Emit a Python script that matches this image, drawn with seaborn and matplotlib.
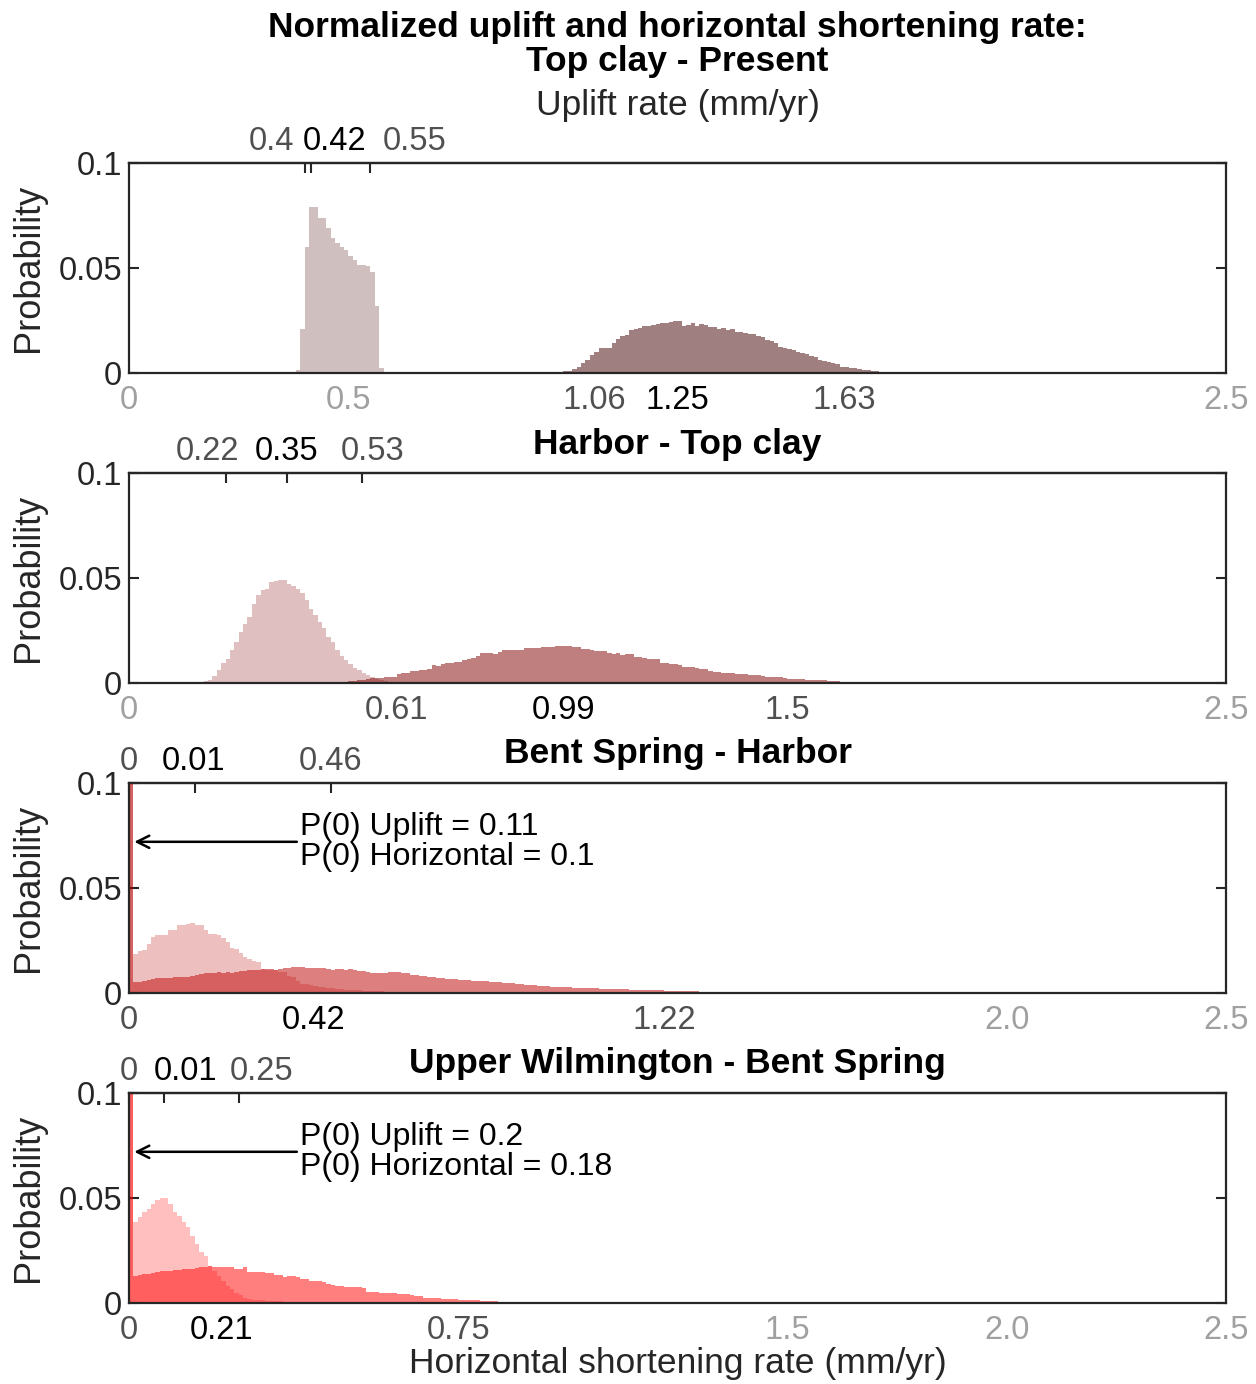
import numpy as np
import pandas as pd
import matplotlib
matplotlib.use("Agg")
import matplotlib.pyplot as plt
import matplotlib.transforms as mtransforms
import seaborn as sns

# ---------------- data (probability per 0.01 mm/yr bin) ----------------
BIN = 0.01

p1_title = "Normalized uplift and horizontal shortening rate:\nTop clay - Present"
p1_uplift_start = 0.38
p1_uplift = [0.0013, 0.021, 0.060, 0.079, 0.079, 0.074, 0.074, 0.069, 0.0645, 0.062,
             0.060, 0.0586, 0.0557, 0.0538, 0.0514, 0.0514, 0.051, 0.048, 0.032, 0.0025]
p1_horiz_start = 0.96
p1_horiz = [0.0003, 0.0004, 0.0005, 0.0008, 0.0010, 0.0017, 0.0030, 0.0046, 0.0060, 0.0086,
            0.0100, 0.0117, 0.0117, 0.0117, 0.0144, 0.0160, 0.0176, 0.0180, 0.0205, 0.0210,
            0.0213, 0.0224, 0.0225, 0.0229, 0.0232, 0.0237, 0.0240, 0.0244, 0.0248, 0.0246,
            0.0224, 0.0230, 0.0240, 0.0224, 0.0232, 0.0229, 0.0220, 0.0217, 0.0208, 0.0214,
            0.0205, 0.0208, 0.0197, 0.0194, 0.0189, 0.0186, 0.0184, 0.0176, 0.0170, 0.0157,
            0.0154, 0.0141, 0.0125, 0.0117, 0.0113, 0.0110, 0.0098, 0.0094, 0.0089, 0.0081,
            0.0075, 0.0062, 0.0059, 0.0054, 0.0049, 0.0041, 0.0030, 0.0027, 0.0024, 0.0022,
            0.0019, 0.0016, 0.0013, 0.0010, 0.0008, 0.0007, 0.0006, 0.0006, 0.0005, 0.0005,
            0.0004, 0.0003, 0.0002]
p1_top_ticks = [0.40, 0.415, 0.55]
p1_top_labels = ["0.4", "0.42", "0.55"]
p1_top_roles = ["bound", "mode", "bound"]
p1_bottom_ticks = [0, 0.5, 1.06, 1.25, 1.63, 2.5]
p1_bottom_labels = ["0", "0.5", "1.06", "1.25", "1.63", "2.5"]
p1_bottom_roles = ["axis", "axis", "bound", "mode", "bound", "axis"]

p2_title = "Harbor - Top clay"
p2_uplift_start = 0.15
p2_uplift = [0.0002, 0.0004, 0.0008, 0.0016, 0.0035, 0.0060, 0.0095, 0.0116, 0.0159, 0.0195,
             0.0243, 0.0283, 0.0314, 0.0378, 0.0417, 0.0444, 0.0449, 0.0481, 0.0484, 0.0492,
             0.0489, 0.0470, 0.0460, 0.0449, 0.0429, 0.0394, 0.0354, 0.0322, 0.0290, 0.0263,
             0.0219, 0.0195, 0.0156, 0.0127, 0.0108, 0.0089, 0.0071, 0.0060, 0.0048, 0.0037,
             0.0029, 0.0021, 0.0016, 0.0011, 0.0006, 0.0004, 0.0002]
p2_horiz_start = 0.47
p2_horiz = [0.0003, 0.0004, 0.0006, 0.0008, 0.0009, 0.0012, 0.0016, 0.0018, 0.0022, 0.0025,
            0.0026, 0.0027, 0.0029, 0.0030, 0.0044, 0.0047, 0.0049, 0.0055, 0.0057, 0.0060,
            0.0063, 0.0065, 0.0084, 0.0082, 0.0092, 0.0097, 0.0097, 0.0098, 0.0100, 0.0111,
            0.0115, 0.0119, 0.0130, 0.0143, 0.0143, 0.0143, 0.0137, 0.0148, 0.0159, 0.0159,
            0.0157, 0.0156, 0.0156, 0.0168, 0.0168, 0.0168, 0.0168,
            0.0172, 0.0170, 0.0170, 0.0174, 0.0176, 0.0176, 0.0176, 0.0170, 0.0170, 0.0162,
            0.0160, 0.0157, 0.0153, 0.0151, 0.0151, 0.0144, 0.0138, 0.0144, 0.0133, 0.0137,
            0.0136, 0.0122, 0.0122, 0.0118, 0.0116, 0.0116, 0.0116, 0.0097, 0.0094, 0.0090,
            0.0089, 0.0084, 0.0076, 0.0075, 0.0075, 0.0070, 0.0068, 0.0065, 0.0059, 0.0053,
            0.0052, 0.0049, 0.0049, 0.0046, 0.0044, 0.0042, 0.0041, 0.0040, 0.0038, 0.0037,
            0.0033, 0.0030, 0.0029, 0.0029, 0.0028, 0.0026, 0.0021, 0.0021, 0.0020, 0.0017,
            0.0016, 0.0016, 0.0014, 0.0013, 0.0012, 0.0010, 0.0008, 0.0008, 0.0007, 0.0006,
            0.0005, 0.0005, 0.0004, 0.0004, 0.0003, 0.0003, 0.0003, 0.0002, 0.0002, 0.0002,
            0.0001, 0.0001]
p2_top_ticks = [0.22, 0.36, 0.53]
p2_top_labels = ["0.22", "0.35", "0.53"]
p2_top_roles = ["bound", "mode", "bound"]
p2_bottom_ticks = [0, 0.61, 0.99, 1.5, 2.5]
p2_bottom_labels = ["0", "0.61", "0.99", "1.5", "2.5"]
p2_bottom_roles = ["axis", "bound", "mode", "bound", "axis"]

p3_title = "Bent Spring - Harbor"
p3_uplift_start = 0.0
p3_uplift = [0.11, 0.0186, 0.0200, 0.0205, 0.0235, 0.0265, 0.0275, 0.0276, 0.0276, 0.0300,
             0.0302, 0.0322, 0.0325, 0.0330, 0.0333, 0.0325, 0.0322, 0.0300, 0.0283, 0.0283,
             0.0276, 0.0262, 0.0241, 0.0213, 0.0211, 0.0190, 0.0170, 0.0160, 0.0152, 0.0146,
             0.0112, 0.0110, 0.0110, 0.0108, 0.0098, 0.0098, 0.0083, 0.0075, 0.0059, 0.0045,
             0.0043, 0.0040, 0.0032, 0.0030, 0.0028, 0.0025, 0.0024, 0.0021, 0.0017, 0.0016,
             0.0015, 0.0014, 0.0012, 0.0011, 0.0011, 0.0010, 0.0010, 0.0009, 0.0007, 0.0006,
             0.0006, 0.0006, 0.0006, 0.0006, 0.0006, 0.0006, 0.0006, 0.0004, 0.0004, 0.0003,
             0.0003, 0.0003, 0.0002, 0.0002, 0.0002, 0.0002, 0.0001, 0.0001, 0.0001]
p3_horiz_start = 0.0
p3_horiz = [0.10, 0.0051, 0.0054, 0.0059, 0.0062, 0.0067, 0.0070, 0.0073, 0.0070, 0.0071,
            0.0075, 0.0076, 0.0078, 0.0078, 0.0081, 0.0084, 0.0090, 0.0094, 0.0097, 0.0095,
            0.0098, 0.0097, 0.0100, 0.0097, 0.0098, 0.0103, 0.0106, 0.0108, 0.0110, 0.0110,
            0.0113, 0.0114, 0.0116, 0.0110, 0.0114, 0.0119, 0.0119, 0.0122, 0.0124, 0.0122,
            0.0121, 0.0119, 0.0119, 0.0117, 0.0119, 0.0114, 0.0111, 0.0114, 0.0113, 0.0110,
            0.0113, 0.0110, 0.0106, 0.0104, 0.0102, 0.0097, 0.0097, 0.0097, 0.0097, 0.0098,
            0.0098, 0.0098, 0.0094, 0.0094, 0.0087, 0.0087, 0.0081, 0.0081, 0.0078, 0.0078,
            0.0070, 0.0070, 0.0067, 0.0067, 0.0067, 0.0062, 0.0062, 0.0062, 0.0056, 0.0056,
            0.0056, 0.0055, 0.0054, 0.0053, 0.0052, 0.0048, 0.0047, 0.0046, 0.0045, 0.0042,
            0.0039, 0.0037, 0.0036, 0.0035, 0.0034, 0.0032, 0.0030, 0.0029, 0.0029, 0.0028,
            0.0027, 0.0026, 0.0025, 0.0025, 0.0024, 0.0023, 0.0022, 0.0021, 0.0021, 0.0020,
            0.0019, 0.0018, 0.0017, 0.0017, 0.0016, 0.0016, 0.0015, 0.0014, 0.0013, 0.0013,
            0.0012, 0.0012, 0.0011, 0.0010, 0.0010, 0.0010, 0.0009, 0.0009, 0.0008, 0.0008,
            0.0007, 0.0007, 0.0007, 0.0006, 0.0006, 0.0006, 0.0005, 0.0005, 0.0005, 0.0005,
            0.0005, 0.0005, 0.0005, 0.0005, 0.0005, 0.0005, 0.0005, 0.0003, 0.0003, 0.0003,
            0.0003, 0.0003, 0.0003, 0.0003, 0.0003, 0.0003, 0.0003, 0.0003, 0.0003, 0.0003,
            0.0003, 0.0003, 0.0002, 0.0002, 0.0002, 0.0002, 0.0002, 0.0002, 0.0002, 0.0002,
            0.0002, 0.0002, 0.0002, 0.0002, 0.0002, 0.0002]
p3_top_ticks = [0.0, 0.15, 0.46]
p3_top_labels = ["0", "0.01", "0.46"]
p3_top_roles = ["bound", "mode", "bound"]
p3_bottom_ticks = [0, 0.42, 1.22, 2.0, 2.5]
p3_bottom_labels = ["0", "0.42", "1.22", "2.0", "2.5"]
p3_bottom_roles = ["bound", "mode", "bound", "axis", "axis"]
p3_note = "P(0) Uplift = 0.11\nP(0) Horizontal = 0.1"

p4_title = "Upper Wilmington - Bent Spring"
p4_uplift_start = 0.0
p4_uplift = [0.20, 0.0387, 0.0408, 0.0432, 0.0448, 0.0471, 0.0492, 0.0498, 0.0502, 0.0471,
             0.0435, 0.0416, 0.0387, 0.0360, 0.0317, 0.0281, 0.0241, 0.0222, 0.0178, 0.0154,
             0.0130, 0.0105, 0.0083, 0.0065, 0.0048, 0.0036, 0.0025, 0.0019, 0.0015, 0.0013,
             0.0012, 0.0010, 0.0009, 0.0008, 0.0008, 0.0007, 0.0006, 0.0005, 0.0005, 0.0005,
             0.0004, 0.0004, 0.0004, 0.0003, 0.0003, 0.0003, 0.0003, 0.0002, 0.0002, 0.0002,
             0.0002, 0.0002, 0.0001, 0.0001, 0.0001]
p4_horiz_start = 0.0
p4_horiz = [0.18, 0.0130, 0.0133, 0.0137, 0.0140, 0.0143, 0.0146, 0.0151, 0.0154, 0.0154,
            0.0156, 0.0159, 0.0162, 0.0162, 0.0162, 0.0167, 0.0170, 0.0173, 0.0178, 0.0171,
            0.0172, 0.0171, 0.0172, 0.0170, 0.0162, 0.0162, 0.0170, 0.0149, 0.0150, 0.0149,
            0.0147, 0.0143, 0.0141, 0.0133, 0.0133, 0.0122, 0.0127, 0.0127, 0.0125, 0.0116,
            0.0114, 0.0106, 0.0104, 0.0103, 0.0100, 0.0090, 0.0084, 0.0083, 0.0082, 0.0076,
            0.0075, 0.0075, 0.0074, 0.0072, 0.0053, 0.0052, 0.0051, 0.0050, 0.0048, 0.0047,
            0.0046, 0.0042, 0.0041, 0.0041, 0.0040, 0.0035, 0.0034, 0.0024, 0.0023, 0.0022,
            0.0022, 0.0021, 0.0021, 0.0020, 0.0017, 0.0016, 0.0016, 0.0015, 0.0015, 0.0012,
            0.0011, 0.0011, 0.0010, 0.0010, 0.0007, 0.0007, 0.0006, 0.0006, 0.0006, 0.0005,
            0.0005, 0.0004, 0.0004, 0.0003, 0.0003, 0.0003, 0.0003, 0.0003, 0.0003, 0.0002,
            0.0002, 0.0002, 0.0002, 0.0002, 0.0002, 0.0002, 0.0002, 0.0002, 0.0002, 0.0002,
            0.0002, 0.0002, 0.0002, 0.0002, 0.0001, 0.0001, 0.0001, 0.0001, 0.0001, 0.0001,
            0.0001, 0.0001, 0.0001, 0.0001, 0.0001, 0.0001, 0.0001, 0.0001, 0.0001]
p4_top_ticks = [0.0, 0.08, 0.25]
p4_top_labels = ["0", "0.01", "0.25"]
p4_top_roles = ["bound", "mode", "bound"]
p4_bottom_ticks = [0, 0.21, 0.75, 1.5, 2.0, 2.5]
p4_bottom_labels = ["0", "0.21", "0.75", "1.5", "2.0", "2.5"]
p4_bottom_roles = ["bound", "mode", "bound", "axis", "axis", "axis"]
p4_note = "P(0) Uplift = 0.2\nP(0) Horizontal = 0.18"

y_ticks = [0, 0.05, 0.1]
y_labels = ["0", "0.05", "0.1"]
top_axis_label = "Uplift rate (mm/yr)"
bottom_axis_label = "Horizontal shortening rate (mm/yr)"
y_axis_label = "Probability"

# ---------------- layout / style ----------------
# where the top (uplift) tick labels sit, spread apart so they do not collide
top_label_x = [[0.324, 0.469, 0.650],
               [0.180, 0.360, 0.554],
               [0.0, 0.146, 0.460],
               [0.0, 0.128, 0.301]]

sns.set_theme(style="white")
plt.rcParams["font.family"] = ["Liberation Sans", "DejaVu Sans"]
plt.rcParams["axes.linewidth"] = 1.6

W, H = 1256, 1384
fig = plt.figure(figsize=(W / 100, H / 100), dpi=100)

AX_L, AX_R = 129, 1226
AX_TOPS = [163, 473, 783, 1093]
AX_H = 210
TICK_FS = 23.5
LABEL_FS = 25.5
NOTE_FS = 23
ROLE_COLORS = {"axis": "#a0a0a0", "bound": "#505050", "mode": "#000000"}
SPINE_C = "#262626"

base_colors = [(0.25, 0, 0), (0.5, 0, 0), (0.75, 0, 0), (1.0, 0, 0)]

panels = [
    dict(uplift=p1_uplift, u0=p1_uplift_start, horiz=p1_horiz, h0=p1_horiz_start,
         tt=p1_top_ticks, tl=p1_top_labels, tr=p1_top_roles,
         bt=p1_bottom_ticks, bl=p1_bottom_labels, br=p1_bottom_roles, title=None, note=None),
    dict(uplift=p2_uplift, u0=p2_uplift_start, horiz=p2_horiz, h0=p2_horiz_start,
         tt=p2_top_ticks, tl=p2_top_labels, tr=p2_top_roles,
         bt=p2_bottom_ticks, bl=p2_bottom_labels, br=p2_bottom_roles, title=p2_title, note=None),
    dict(uplift=p3_uplift, u0=p3_uplift_start, horiz=p3_horiz, h0=p3_horiz_start,
         tt=p3_top_ticks, tl=p3_top_labels, tr=p3_top_roles,
         bt=p3_bottom_ticks, bl=p3_bottom_labels, br=p3_bottom_roles, title=p3_title, note=p3_note),
    dict(uplift=p4_uplift, u0=p4_uplift_start, horiz=p4_horiz, h0=p4_horiz_start,
         tt=p4_top_ticks, tl=p4_top_labels, tr=p4_top_roles,
         bt=p4_bottom_ticks, bl=p4_bottom_labels, br=p4_bottom_roles, title=p4_title, note=p4_note),
]


def draw_hist(ax, start, values, color, alpha):
    vals = np.asarray(values, dtype=float)
    edges = start + BIN * np.arange(len(vals) + 1)
    df = pd.DataFrame({"rate": edges[:-1] + BIN / 2, "prob": vals})
    sns.histplot(data=df, x="rate", weights="prob", bins=[float(e) for e in edges],
                 element="step", fill=True, color=color, alpha=alpha, linewidth=0,
                 edgecolor="none", ax=ax)


for i, (p, col) in enumerate(zip(panels, base_colors)):
    top = AX_TOPS[i]
    ax = fig.add_axes([AX_L / W, 1 - (top + AX_H) / H, (AX_R - AX_L) / W, AX_H / H])
    ax.set_facecolor("white")
    draw_hist(ax, p["h0"], p["horiz"], col, 0.5)
    draw_hist(ax, p["u0"], p["uplift"], col, 0.25)
    ax.set_xlim(0, 2.5)
    ax.set_ylim(0, 0.1)
    ax.set_axisbelow(True)
    ax.set_yticks(y_ticks, labels=y_labels)
    ax.set_xticks(p["bt"], labels=p["bl"])
    for lab, role in zip(ax.get_xticklabels(), p["br"]):
        lab.set_color(ROLE_COLORS[role])
    for lab in ax.get_yticklabels():
        lab.set_color("#262626")
    ax.tick_params(axis="x", direction="in", length=7, width=1.5, color=SPINE_C,
                   labelsize=TICK_FS, pad=8.5, top=False)
    ax.tick_params(axis="y", direction="in", length=7, width=1.5, color=SPINE_C,
                   labelsize=TICK_FS, pad=5, left=True, right=True)
    for s in ax.spines.values():
        s.set_color(SPINE_C)
        s.set_linewidth(1.6)
    ax.set_xlabel("")
    ax.set_ylabel(y_axis_label, fontsize=26, color="#262626")
    ax.yaxis.set_label_coords(-0.076, 0.5)
    ax.grid(False)

    # top (uplift-rate) axis: tick marks at the values, labels spread apart
    sec = ax.secondary_xaxis("top")
    sec.set_xticks(p["tt"], labels=[""] * len(p["tt"]))
    sec.tick_params(axis="x", direction="in", length=7, width=1.5, color=SPINE_C, pad=0)
    sec.spines["top"].set_color(SPINE_C)
    sec.spines["top"].set_linewidth(1.6)
    trans = mtransforms.blended_transform_factory(ax.transData, ax.transAxes)
    for lx, lab, role in zip(top_label_x[i], p["tl"], p["tr"]):
        ax.text(lx, 1 + 22 / AX_H, lab, transform=trans, ha="center", va="center",
                fontsize=TICK_FS, color=ROLE_COLORS[role])

    if p["title"]:
        ax.text(0.5, 1 + 29 / AX_H, p["title"], transform=ax.transAxes, ha="center",
                va="center", fontsize=LABEL_FS, fontweight="bold", color="black")
    if p["note"]:
        ax.annotate(p["note"], xy=(0.012, 0.072), xytext=(0.39, 0.072),
                    ha="left", va="center", fontsize=NOTE_FS, color="black", linespacing=1.0,
                    arrowprops=dict(arrowstyle="->", color="black", lw=1.8,
                                    mutation_scale=22, shrinkA=0, shrinkB=0,
                                    relpos=(0, 0.5)))

cx = (AX_L + AX_R) / 2 / W
fig.text(cx, 1 - 27 / H, p1_title.split("\n")[0], ha="center", va="center",
         fontsize=LABEL_FS, fontweight="bold", color="black")
fig.text(cx, 1 - 62 / H, p1_title.split("\n")[1], ha="center", va="center",
         fontsize=LABEL_FS, fontweight="bold", color="black")
fig.text(cx, 1 - 105 / H, top_axis_label, ha="center", va="center",
         fontsize=LABEL_FS, color="#262626")
fig.text(cx, 1 - 1364 / H, bottom_axis_label, ha="center", va="center",
         fontsize=LABEL_FS, color="#262626")

fig.savefig("out.png", dpi=100, facecolor="white")
